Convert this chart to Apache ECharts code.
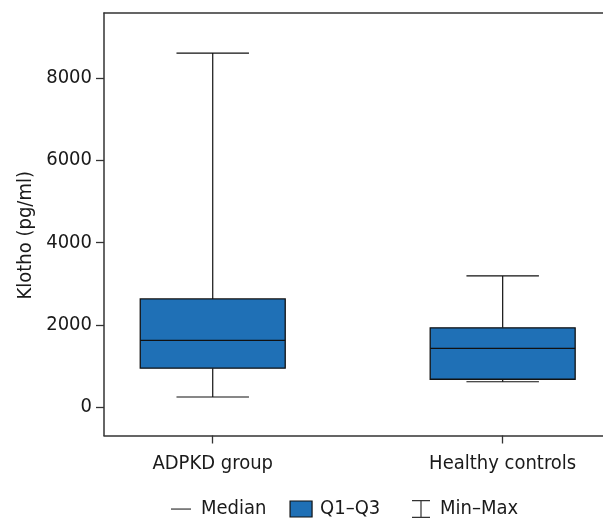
<!DOCTYPE html>
<html>
<head>
<meta charset="utf-8">
<script src="https://cdn.jsdelivr.net/npm/echarts@6/dist/echarts.min.js"></script>
<style>
html,body{margin:0;padding:0;background:#fff;}
#chart{width:603px;height:518px;}
</style>
</head>
<body>
<div id="chart"></div>
<script>
// ---- data ----
const categories = ['ADPKD group', 'Healthy controls'];
const minVals    = [250, 620];
const q1Vals     = [950, 680];
const medianVals = [1625, 1430];
const q3Vals     = [2630, 1930];
const maxVals    = [8600, 3190];
const yTicks     = [0, 2000, 4000, 6000, 8000];
const legendNames = ['Median', 'Q1\u2013Q3', 'Min\u2013Max'];
const yTitle = 'Klotho (pg/ml)';

// ---- styles ----
const FONT = "'DejaVu Sans Condensed', 'Liberation Sans Narrow', sans-serif";
const TEXT = '#1a1a1a';
const AXIS = '#333333';
const BOX_FILL = '#1f70b6';
const BOX_WIDTH = 0.5;   // in x-axis units
const CAP_WIDTH = 0.25;

const boxData = categories.map((c, i) => [i + 1, minVals[i], q1Vals[i], medianVals[i], q3Vals[i], maxVals[i]]);
const xPositions = categories.map((c, i) => i + 1);

function renderItem(params, api) {
  const x = api.value(0);
  const pMin = api.coord([x, api.value(1)]);
  const pQ1 = api.coord([x, api.value(2)]);
  const pMed = api.coord([x, api.value(3)]);
  const pQ3 = api.coord([x, api.value(4)]);
  const pMax = api.coord([x, api.value(5)]);
  const halfBox = api.size([BOX_WIDTH, 0])[0] / 2;
  const halfCap = api.size([CAP_WIDTH, 0])[0] / 2;
  const cx = pMed[0];
  const ls = { stroke: '#111', lineWidth: 1.2 };
  return {
    type: 'group',
    children: [
      { type: 'line', shape: { x1: cx, y1: pQ3[1], x2: cx, y2: pMax[1] }, style: ls },
      { type: 'line', shape: { x1: cx - halfCap, y1: pMax[1], x2: cx + halfCap, y2: pMax[1] }, style: ls },
      { type: 'line', shape: { x1: cx, y1: pQ1[1], x2: cx, y2: pMin[1] }, style: ls },
      { type: 'line', shape: { x1: cx - halfCap, y1: pMin[1], x2: cx + halfCap, y2: pMin[1] }, style: ls },
      { type: 'rect', shape: { x: cx - halfBox, y: pQ3[1], width: halfBox * 2, height: pQ1[1] - pQ3[1] },
        style: { fill: BOX_FILL, stroke: '#111', lineWidth: 1.3 } },
      { type: 'line', shape: { x1: cx - halfBox, y1: pMed[1], x2: cx + halfBox, y2: pMed[1] }, style: { stroke: '#111', lineWidth: 1.3 } }
    ]
  };
}

const legendBase = {
  selectedMode: false,
  padding: 0,
  top: 499,
  itemWidth: 22, itemHeight: 18, itemGap: 23,
  textStyle: { fontFamily: FONT, fontSize: 20, color: TEXT, padding: [0, 0, 0, 3] }
};

const chart = echarts.init(document.getElementById('chart'), null, { renderer: 'canvas' });
chart.setOption({
  animation: false,
  backgroundColor: '#fff',
  textStyle: { fontFamily: FONT, color: TEXT },
  grid: { left: 104, right: 0, top: 13, bottom: 82.5 },
  xAxis: [{
    type: 'value',
    position: 'bottom',
    min: 0.625, max: 2.346,
    axisLine: { show: true, onZero: false, lineStyle: { color: AXIS, width: 1.5 } },
    axisTick: { show: true, length: 8, customValues: xPositions, lineStyle: { color: AXIS, width: 1.3 } },
    axisLabel: {
      customValues: xPositions,
      formatter: v => categories[Math.round(v) - 1] || '',
      fontFamily: FONT, fontSize: 20, color: TEXT, margin: 18
    },
    splitLine: { show: false }
  }, {
    type: 'value', position: 'top',
    min: 0.625, max: 2.346,
    axisLine: { show: true, onZero: false, lineStyle: { color: AXIS, width: 1.5 } },
    axisTick: { show: false }, axisLabel: { show: false }, splitLine: { show: false }
  }],
  yAxis: {
    type: 'value',
    position: 'left',
    min: -685, max: 9572,
    name: yTitle,
    nameLocation: 'middle',
    nameGap: 64,
    nameTextStyle: { fontFamily: FONT, fontSize: 20, color: TEXT, padding: [0, 22, 0, 0] },
    axisLine: { show: true, onZero: false, lineStyle: { color: AXIS, width: 1.5 } },
    axisTick: { show: true, length: 8, customValues: yTicks, lineStyle: { color: AXIS, width: 1.3 } },
    axisLabel: { customValues: yTicks, formatter: v => String(v), fontFamily: FONT, fontSize: 20, color: TEXT, margin: 12 },
    splitLine: { show: false }
  },
  legend: [
    Object.assign({}, legendBase, {
      left: 171,
      data: [
        { name: legendNames[0], icon: 'path://M0 0M22 18M0 8.5L20 8.5L20 9.6L0 9.6Z', itemStyle: { color: '#222', borderWidth: 0 } },
        { name: legendNames[1], icon: 'path://M0 0M22 18M0 1L22 1L22 17L0 17Z', itemStyle: { color: BOX_FILL, borderColor: '#111', borderWidth: 1.2 } }
      ]
    }),
    Object.assign({}, legendBase, {
      left: 410,
      data: [
        { name: legendNames[2], icon: 'path://M0 0M22 18M2 0L20 0L20 1.2L11.6 1.2L11.6 16.8L20 16.8L20 18L2 18L2 16.8L10.4 16.8L10.4 1.2L2 1.2Z', itemStyle: { color: '#333', borderWidth: 0 } }
      ]
    })
  ],
  series: [
    { name: legendNames[0], type: 'line', data: [], symbol: 'none', lineStyle: { color: '#222' } },
    {
      name: legendNames[1], type: 'custom', renderItem: renderItem,
      data: boxData, encode: { x: 0, y: [1, 2, 3, 4, 5] },
      itemStyle: { color: BOX_FILL }
    },
    { name: legendNames[2], type: 'line', data: [], symbol: 'none', lineStyle: { color: '#333' } }
  ]
});
</script>
</body>
</html>
